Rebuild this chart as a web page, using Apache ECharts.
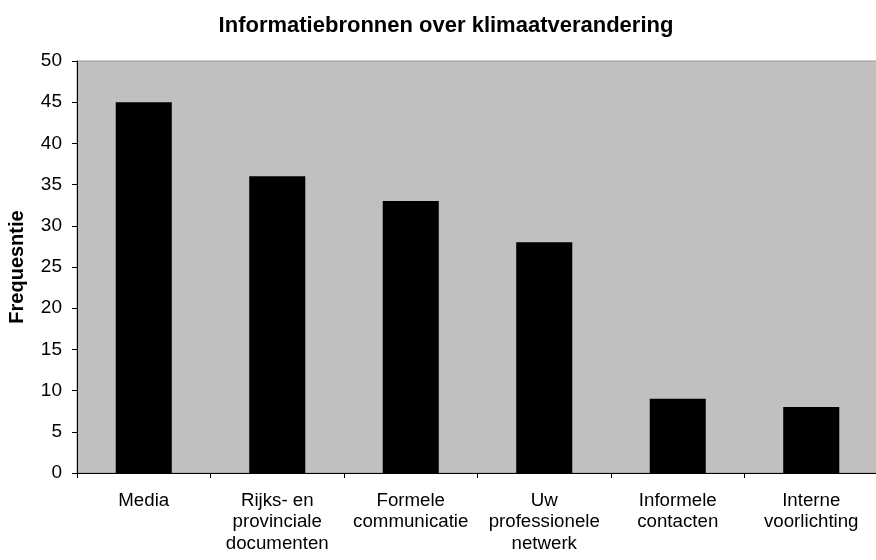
<!DOCTYPE html>
<html><head><meta charset="utf-8">
<script src="https://cdn.jsdelivr.net/npm/echarts@6/dist/echarts.min.js"></script>
<style>html,body{margin:0;padding:0;background:#fff}#c{width:876px;height:560px}</style>
</head><body><div id="c"></div>
<script>
const categories = ['Media', 'Rijks- en\nprovinciale\ndocumenten', 'Formele\ncommunicatie', 'Uw\nprofessionele\nnetwerk', 'Informele\ncontacten', 'Interne\nvoorlichting'];
const values = [45, 36, 33, 28, 9, 8];
const yTicks = { min: 0, max: 50, interval: 5 };

const chart = echarts.init(document.getElementById('c'));
chart.setOption({
  animation: false,
  textStyle: { fontFamily: 'Liberation Sans, Arial, sans-serif' },
  title: {
    text: 'Informatiebronnen over klimaatverandering',
    left: 441, textAlign: 'center', top: 10,
    textStyle: { fontSize: 22, fontWeight: 'bold', color: '#000', fontFamily: 'Liberation Sans, Arial, sans-serif' }
  },
  grid: { left: 77, right: -2, top: 61, bottom: 87, containLabel: false, outerBoundsMode: 'none',
          backgroundColor: '#c0c0c0', show: true, borderColor: '#999', borderWidth: 1 },
  xAxis: {
    type: 'category', data: categories,
    axisLine: { lineStyle: { color: '#000', width: 1 } },
    axisTick: { show: true, alignWithLabel: false, length: 5, lineStyle: { color: '#000' } },
    axisLabel: { color: '#000', fontSize: 18.7, lineHeight: 21.5, margin: 17, interval: 0 }
  },
  yAxis: {
    type: 'value', min: yTicks.min, max: yTicks.max, interval: yTicks.interval,
    name: 'Frequesntie', nameLocation: 'middle', nameGap: 50, nameRotate: 90,
    nameTextStyle: { fontSize: 20, fontWeight: 'bold', color: '#000' },
    axisLine: { show: true, lineStyle: { color: '#000', width: 1 } },
    axisTick: { show: true, length: 5, lineStyle: { color: '#000' } },
    axisLabel: { color: '#000', fontSize: 19, margin: 15 },
    splitLine: { show: false }
  },
  series: [{
    type: 'bar', data: values, barWidth: '42%',
    itemStyle: { color: '#000' }
  }]
});
</script></body></html>
